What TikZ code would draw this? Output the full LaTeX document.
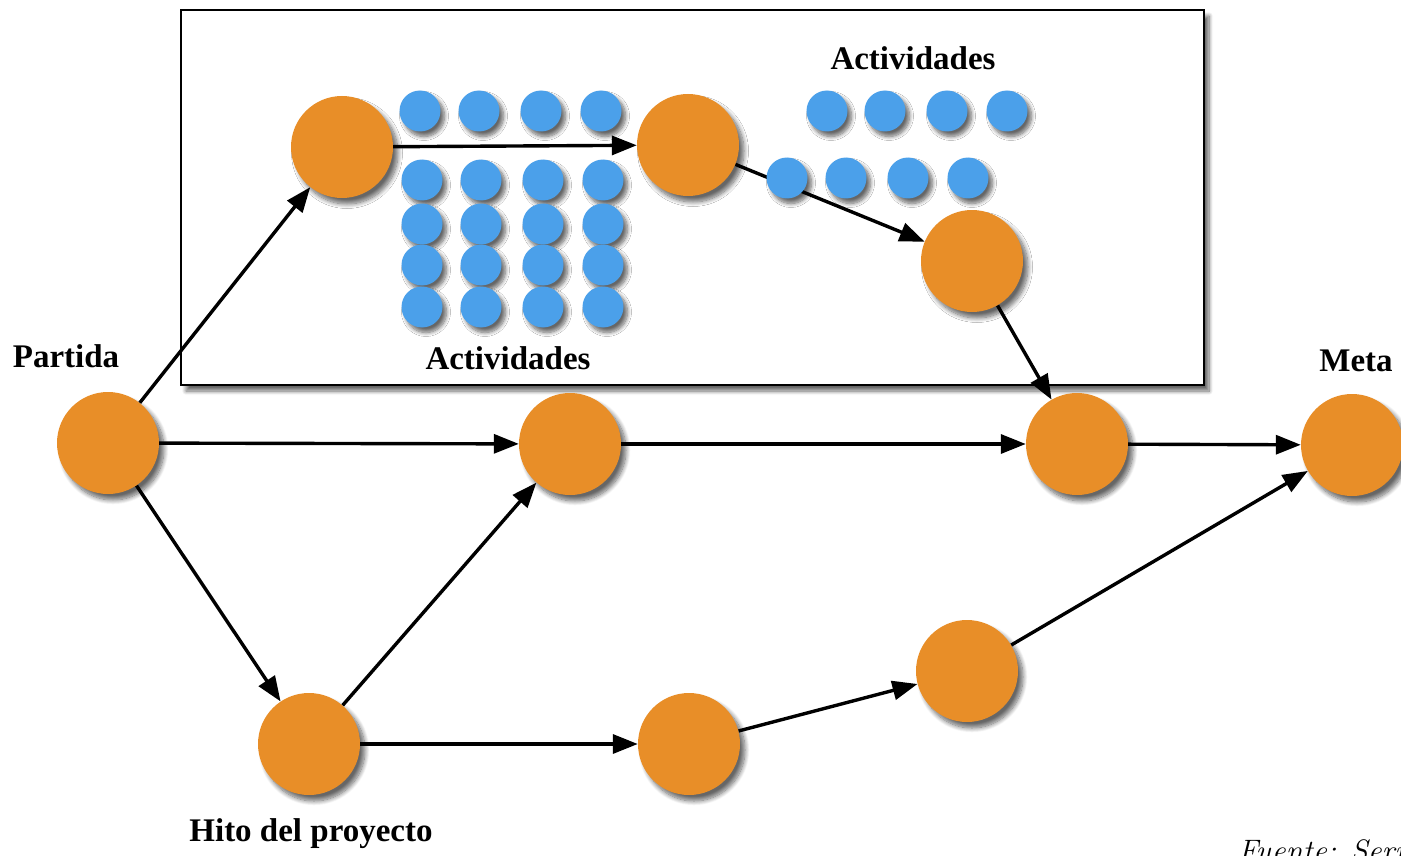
\documentclass[tikz,border=0pt]{standalone}
\usepackage{fontspec}
\newfontfamily\lab{Liberation Serif}
\usetikzlibrary{arrows.meta,shadows.blur}
\definecolor{myorange}{RGB}{232,142,40}
\definecolor{myblue}{RGB}{75,160,234}
\tikzset{
  big/.style={circle, fill=myorange, minimum size=102pt, inner sep=0pt,
    blur shadow={shadow xshift=5pt, shadow yshift=-6pt, shadow blur radius=4.5pt, shadow blur steps=10, shadow opacity=60}},
  small/.style={circle, fill=myblue, minimum size=41pt, inner sep=0pt,
    blur shadow={shadow xshift=4pt, shadow yshift=-5pt, shadow blur radius=4pt, shadow blur steps=8, shadow opacity=60}},
  frame/.style={draw, line width=2pt, fill=white, inner sep=0pt, anchor=north west,
    blur shadow={shadow xshift=5pt, shadow yshift=-6pt, shadow blur radius=4pt, shadow blur steps=8, shadow opacity=60}},
  arr/.style={line width=3.4pt, -{Triangle[length=25pt,width=19pt]}},
  txt/.style={font=\lab\fontsize{33}{36}\selectfont\bfseries, inner sep=0pt},
}
\begin{document}
\begin{tikzpicture}[x=1pt,y=-1pt]
\useasboundingbox (0,0) rectangle (1401,856);
\clip (0,0) rectangle (1401,856);
\node[frame, minimum width=1023pt, minimum height=375pt] (box) at (180,9) {};

% orange nodes (positions)
\coordinate (cP) at (108,443);
\coordinate (cA1) at (342,147);
\coordinate (cA2) at (688,145);
\coordinate (cA3) at (972,261);
\coordinate (cM1) at (570,444);
\coordinate (cM2) at (1077,444);
\coordinate (cMeta) at (1352,445);
\coordinate (cH) at (309,744);
\coordinate (cB1) at (689,744);
\coordinate (cB2) at (967,671);

% invisible anchors for the arrows
\foreach \n in {P,A1,A2,A3,M1,M2,Meta,H,B1,B2}
  \node[circle, minimum size=102pt, inner sep=0pt] (\n) at (c\n) {};

% arrows
\draw[arr] (P) -- (A1);
\draw[arr] (A1) -- (A2);
\draw[arr] (A2) -- (A3);
\draw[arr] (A3) -- (M2);
\draw[arr] (P) -- (M1);
\draw[arr] (M1) -- (M2);
\draw[arr] (M2) -- (Meta);
\draw[arr] (P) -- (H);
\draw[arr] (H) -- (M1);
\draw[arr] (H) -- (B1);
\draw[arr] (B1) -- (B2);
\draw[arr] (B2) -- (Meta);

% orange circles
\foreach \n in {P,A1,A2,A3,M1,M2,Meta,H,B1,B2}
  \node[big] (o\n) at (c\n) {};

% blue activity circles, left group
\foreach \x [count=\i] in {420,479,541,601}
  \node[small] (t\i) at (\x,111) {};
\foreach \x [count=\i] in {422,481,543,603}
  \foreach \y [count=\j] in {180,224,265,307}
    \node[small] (g\i\j) at (\x,\y) {};
% right group
\foreach \x [count=\i] in {827,885,947,1007}
  \node[small] (r\i) at (\x,111) {};
\foreach \x [count=\i] in {787,846,908,968}
  \node[small] (s\i) at (\x,178) {};

% labels
\node[txt] (l1) at (913,58) {Actividades};
\node[txt] (l2) at (508,358) {Actividades};
\node[txt] (l3) at (66,356) {Partida};
\node[txt] (l4) at (1356,361) {Meta};
\node[txt] (l5) at (311,834) {Hito del proyecto};
\node[font=\fontsize{31}{34}\selectfont\itshape, inner sep=0pt, anchor=base west] (src) at (1238,861) {Fuente: Serrano};
\end{tikzpicture}
\end{document}
